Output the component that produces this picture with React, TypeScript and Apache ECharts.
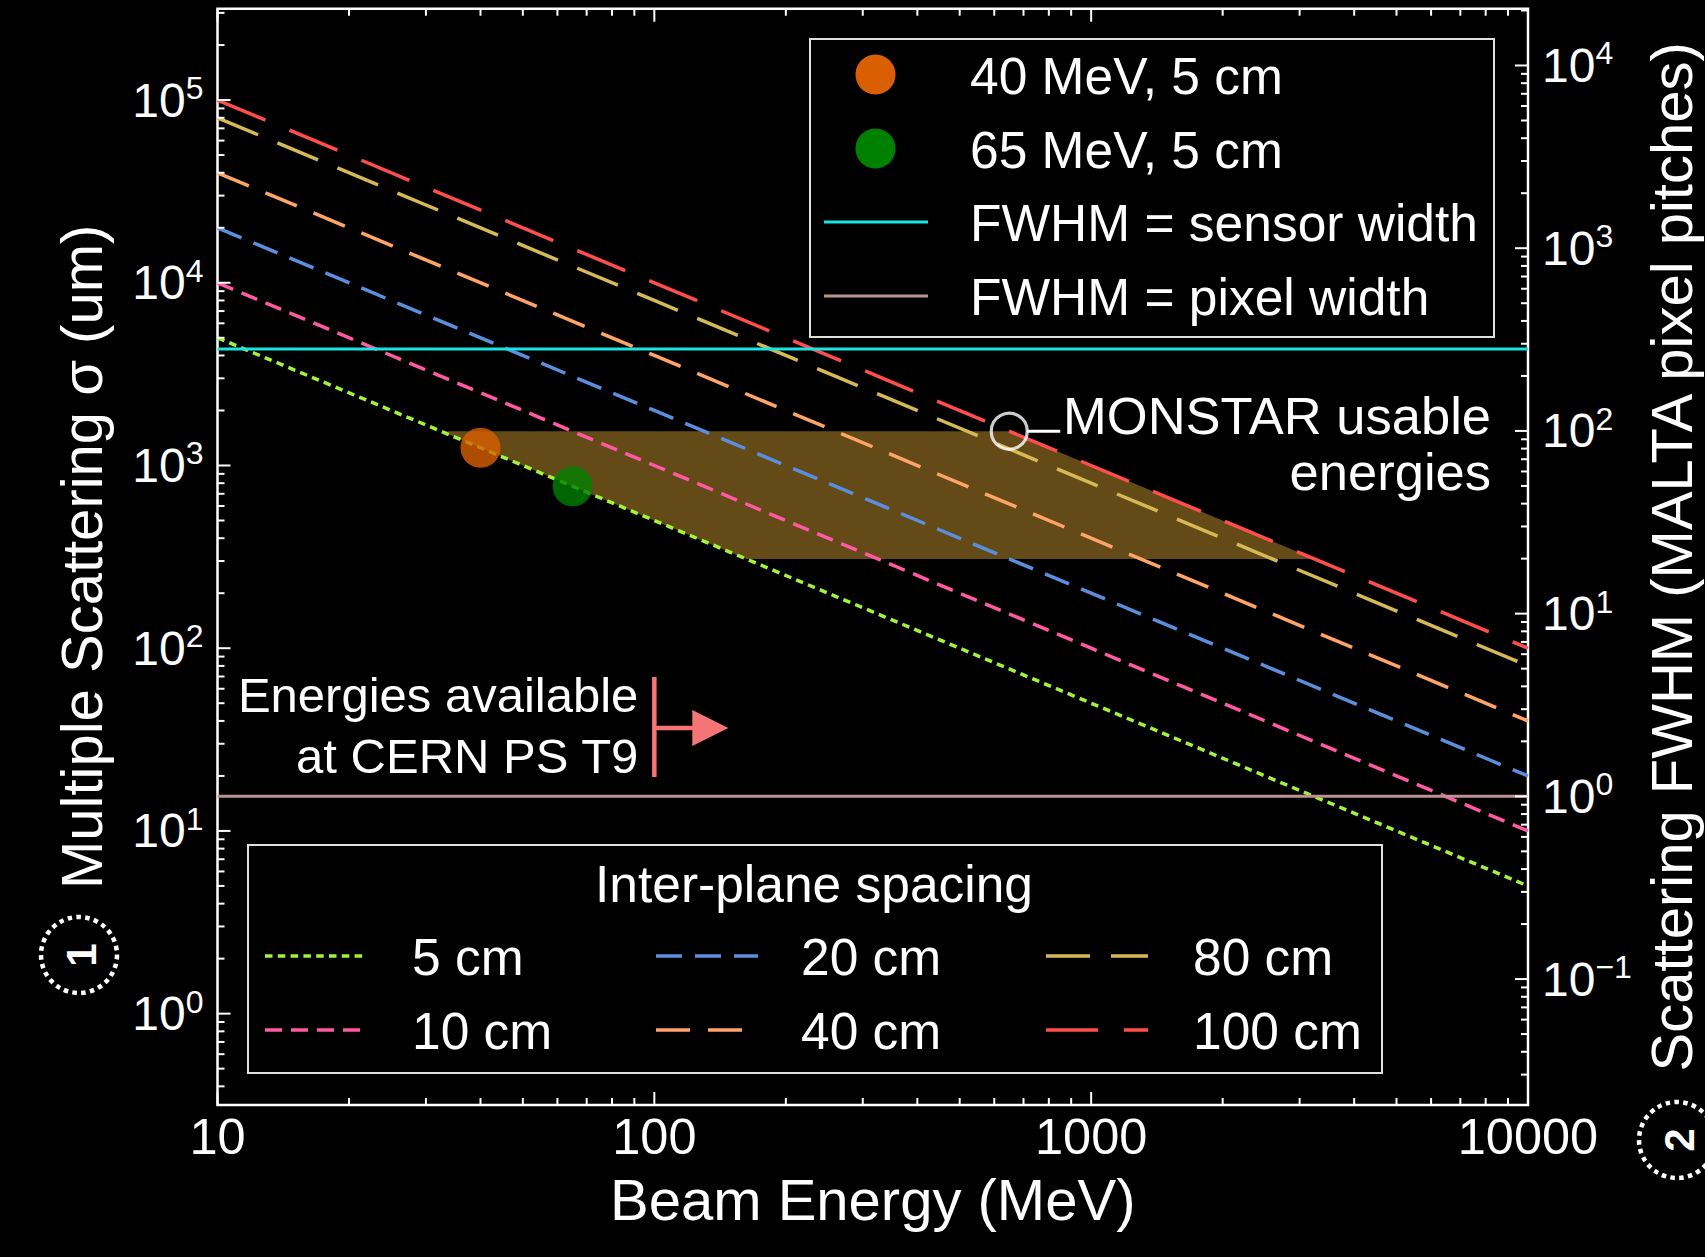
import React, { useEffect, useRef } from "react";
import * as echarts from "echarts";

const FONT = "Liberation Sans, Arial, Helvetica, sans-serif";

// Beam energies (MeV) at which the scattering curves are read
const energies = [10, 100, 1000, 10000];
// Multiple scattering sigma (um) for each inter-plane spacing
const sigma5cm = [5000, 500, 50, 5];
const sigma10cm = [10000, 1000, 100, 10];
const sigma20cm = [20000, 2000, 200, 20];
const sigma40cm = [40000, 4000, 400, 40];
const sigma80cm = [80000, 8000, 800, 80];
const sigma100cm = [100000, 10000, 1000, 100];

const spacingNames = ["5 cm", "10 cm", "20 cm", "40 cm", "80 cm", "100 cm"];
const spacingValues = [sigma5cm, sigma10cm, sigma20cm, sigma40cm, sigma80cm, sigma100cm];
const spacingColors = ["#a3f23c", "#ff59a3", "#5b8fde", "#ffa366", "#d6b955", "#ff4d4d"];
const spacingDashes = [[7.5, 5.3], [17, 9], [26, 13], [34, 18], [44, 21], [52, 26]];

// Measured points
const measuredNames = ["40 MeV, 5 cm", "65 MeV, 5 cm"];
const measuredEnergy = [40, 65];
const measuredSigma = [1250, 769];
const measuredColors = ["#d95f02", "#008000"];

// Reference horizontal lines (sigma, um)
const sensorWidthSigma = 4340;
const pixelWidthSigma = 15.46;
const refLineNames = ["FWHM = sensor width", "FWHM = pixel width"];
const refLineColors = ["#19e3e3", "#bc9393"];

// MONSTAR usable sigma range (um): top, bottom
const monstarSigma = [1540, 308];

const xTickLabels = ["10", "100", "1000", "10000"];
const yExpRange = [-0.5, 5.5];
const minorMultipliers = [2, 3, 4, 5, 6, 7, 8, 9];

const yMin = Math.pow(10, yExpRange[0]);
const yMax = Math.pow(10, yExpRange[1]);
const rMin = yMin / pixelWidthSigma;
const rMax = yMax / pixelWidthSigma;

function lg(v: number) {
  return Math.log10(v);
}

function energyAtSigma(sig: number[], s: number) {
  for (let i = 0; i < energies.length - 1; i++) {
    const a = sig[i];
    const b = sig[i + 1];
    if ((a - s) * (b - s) <= 0) {
      const t = (lg(s) - lg(a)) / (lg(b) - lg(a));
      return Math.pow(10, lg(energies[i]) + t * (lg(energies[i + 1]) - lg(energies[i])));
    }
  }
  return NaN;
}

const bandCorners = [
  [energyAtSigma(sigma5cm, monstarSigma[0]), monstarSigma[0]],
  [energyAtSigma(sigma100cm, monstarSigma[0]), monstarSigma[0]],
  [energyAtSigma(sigma100cm, monstarSigma[1]), monstarSigma[1]],
  [energyAtSigma(sigma5cm, monstarSigma[1]), monstarSigma[1]],
];

function logTicks(lo: number, hi: number) {
  const major: number[] = [];
  const minor: number[] = [];
  for (let k = Math.floor(lg(lo)) - 1; k <= Math.ceil(lg(hi)); k++) {
    const d = Math.pow(10, k);
    if (d >= lo * 0.9999 && d <= hi * 1.0001) major.push(d);
    for (const m of minorMultipliers) {
      const v = m * d;
      if (v >= lo && v <= hi) minor.push(v);
    }
  }
  return { major, minor };
}

const xT = logTicks(10, 10000);
const yT = logTicks(yMin, yMax);
const rT = logTicks(rMin, rMax);

const MAJOR_LEN = 13;
const MINOR_LEN = 7;

const supFormatter = (v: number) => {
  const l = lg(v);
  const e = Math.round(l);
  if (Math.abs(l - e) > 1e-6) return "";
  return `{b|10}{s|${e < 0 ? "\u2212" + -e : e}}`;
};

const supRich = {
  b: { fontSize: 48, fontFamily: FONT, color: "#fff", lineHeight: 56 },
  s: { fontSize: 32, fontFamily: FONT, color: "#fff", lineHeight: 44, verticalAlign: "top" },
};

const TITLE_SIZE = 58;
const LEGEND_SIZE = 51.5;

function buildOption() {
  const series: any[] = [];

  // MONSTAR band
  series.push({
    type: "custom",
    name: "MONSTAR usable energies",
    coordinateSystem: "cartesian2d",
    z: 1,
    silent: true,
    data: [[bandCorners[0][0], bandCorners[0][1]]],
    renderItem: (_params: any, api: any) => ({
      type: "polygon",
      shape: { points: bandCorners.map((c) => api.coord(c)) },
      style: { fill: "#634a16" },
    }),
  });

  spacingNames.forEach((name, i) => {
    series.push({
      type: "line",
      name,
      z: 2,
      silent: true,
      showSymbol: false,
      symbol: "none",
      data: energies.map((e, j) => [e, spacingValues[i][j]]),
      lineStyle: { color: spacingColors[i], width: 3.5, type: spacingDashes[i], cap: "butt" },
    });
  });

  [sensorWidthSigma, pixelWidthSigma].forEach((s, i) => {
    series.push({
      type: "line",
      name: refLineNames[i],
      z: 3,
      silent: true,
      symbol: "none",
      data: [
        [energies[0], s],
        [energies[energies.length - 1], s],
      ],
      lineStyle: { color: refLineColors[i], width: 3, type: "solid" },
    });
  });

  measuredNames.forEach((name, i) => {
    series.push({
      type: "scatter",
      name,
      z: 4,
      symbol: "circle",
      symbolSize: 40,
      data: [[measuredEnergy[i], measuredSigma[i]]],
      itemStyle: { color: measuredColors[i] },
    });
  });

  series.push({
    type: "scatter",
    name: "MONSTAR marker",
    z: 5,
    symbol: "circle",
    symbolSize: 36,
    data: [[bandCorners[1][0], bandCorners[1][1]]],
    itemStyle: { color: "rgba(0,0,0,0)", borderColor: "#fff", borderWidth: 3.2 },
  });

  // ticks: x (bottom + top)
  const tickStyle = { stroke: "#fff", lineWidth: 2 };
  series.push({
    type: "custom",
    coordinateSystem: "cartesian2d",
    z: 6,
    silent: true,
    encode: { x: 0, y: 1 },
    data: [...xT.major.map((v) => [v, 1, 1]), ...xT.minor.map((v) => [v, 1, 0])],
    renderItem: (params: any, api: any) => {
      const cs = params.coordSys;
      const x = api.coord([api.value(0), 1])[0];
      const len = api.value(2) ? MAJOR_LEN : MINOR_LEN;
      const b = cs.y + cs.height;
      return {
        type: "group",
        children: [
          { type: "line", shape: { x1: x, y1: b, x2: x, y2: b - len }, style: tickStyle },
          { type: "line", shape: { x1: x, y1: cs.y, x2: x, y2: cs.y + len }, style: tickStyle },
        ],
      };
    },
  });
  // left y ticks
  series.push({
    type: "custom",
    coordinateSystem: "cartesian2d",
    z: 6,
    silent: true,
    encode: { x: 0, y: 1 },
    data: [...yT.major.map((v) => [10, v, 1]), ...yT.minor.map((v) => [10, v, 0])],
    renderItem: (params: any, api: any) => {
      const cs = params.coordSys;
      const y = api.coord([10, api.value(1)])[1];
      const len = api.value(2) ? MAJOR_LEN : MINOR_LEN;
      return { type: "line", shape: { x1: cs.x, y1: y, x2: cs.x + len, y2: y }, style: tickStyle };
    },
  });
  // right y ticks
  series.push({
    type: "custom",
    coordinateSystem: "cartesian2d",
    yAxisIndex: 1,
    z: 6,
    silent: true,
    encode: { x: 0, y: 1 },
    data: [...rT.major.map((v) => [10, v, 1]), ...rT.minor.map((v) => [10, v, 0])],
    renderItem: (params: any, api: any) => {
      const cs = params.coordSys;
      const y = api.coord([10, api.value(1)])[1];
      const len = api.value(2) ? MAJOR_LEN : MINOR_LEN;
      const r = cs.x + cs.width;
      return { type: "line", shape: { x1: r, y1: y, x2: r - len, y2: y }, style: tickStyle };
    },
  });

  return {
    animation: false,
    backgroundColor: "#000",
    grid: {
      left: 217.5,
      right: 177,
      top: 8.7,
      bottom: 152,
      containLabel: false,
      outerBoundsMode: "none",
      show: true,
      borderColor: "#fff",
      borderWidth: 2.5,
      backgroundColor: "transparent",
    },
    xAxis: {
      type: "log",
      logBase: 10,
      min: 10,
      max: 10000,
      axisLine: { show: false },
      axisTick: { show: false },
      splitLine: { show: false },
      minorTick: { show: false },
      axisLabel: {
        color: "#fff",
        fontSize: 50.5,
        fontFamily: FONT,
        margin: 6,
        formatter: (v: number) => {
          const l = lg(v);
          const e = Math.round(l);
          if (Math.abs(l - e) > 1e-6) return "";
          return xTickLabels[e - 1] ?? "";
        },
      },
      name: "Beam Energy (MeV)",
      nameLocation: "middle",
      nameGap: 94,
      nameMoveOverlap: false,
      nameTextStyle: { color: "#fff", fontSize: TITLE_SIZE, fontFamily: FONT, verticalAlign: "middle", align: "center" },
    },
    yAxis: [
      {
        type: "log",
        logBase: 10,
        min: yMin,
        max: yMax,
        position: "left",
        axisLine: { show: false },
        axisTick: { show: false },
        splitLine: { show: false },
        minorTick: { show: false },
        axisLabel: { formatter: supFormatter, rich: supRich, margin: 14 },
        name: "Multiple Scattering \u03c3 (um)",
        nameLocation: "middle",
        nameRotate: 90,
        nameGap: 136,
        nameMoveOverlap: false,
        nameTextStyle: { color: "#fff", fontSize: TITLE_SIZE, fontFamily: FONT, verticalAlign: "middle", align: "center" },
      },
      {
        type: "log",
        logBase: 10,
        min: rMin,
        max: rMax,
        position: "right",
        axisLine: { show: false },
        axisTick: { show: false },
        splitLine: { show: false },
        minorTick: { show: false },
        axisLabel: { formatter: supFormatter, rich: supRich, margin: 14 },
        name: "Scattering FWHM (MALTA pixel pitches)",
        nameLocation: "middle",
        nameRotate: 90,
        nameGap: 143,
        nameMoveOverlap: false,
        nameTextStyle: { color: "#fff", fontSize: TITLE_SIZE, fontFamily: FONT, verticalAlign: "middle", align: "center" },
      },
    ],
    tooltip: { show: false },
    series,
  };
}

function txt(text: string, x: number, y: number, size: number, align = "left", extra: any = {}) {
  return {
    type: "text",
    x,
    y,
    silent: true,
    z: 100,
    ...extra,
    style: {
      text,
      fill: "#fff",
      fontSize: size,
      fontFamily: FONT,
      fontWeight: extra.fontWeight || "normal",
      align,
      textAlign: align,
      verticalAlign: "middle",
      textVerticalAlign: "middle",
    },
  };
}

function buildGraphics(chart: any) {
  const toPx = (p: number[]) => chart.convertToPixel({ xAxisIndex: 0, yAxisIndex: 0 }, p);
  const g: any[] = [];

  // Top legend
  g.push({
    type: "rect",
    z: 90,
    shape: { x: 810, y: 39, width: 684, height: 298 },
    style: { fill: "#000", stroke: "#e0e0e0", lineWidth: 2 },
  });
  const topRows = [74.5, 148.5, 222, 296];
  measuredNames.forEach((n, i) => {
    g.push({ type: "circle", z: 95, shape: { cx: 875.5, cy: topRows[i], r: 20 }, style: { fill: measuredColors[i] } });
    g.push(txt(n, 970, topRows[i] + 1, LEGEND_SIZE));
  });
  refLineNames.forEach((n, i) => {
    g.push({
      type: "line",
      z: 95,
      shape: { x1: 824, y1: topRows[i + 2], x2: 928, y2: topRows[i + 2] },
      style: { stroke: refLineColors[i], lineWidth: 3 },
    });
    g.push(txt(n, 970, topRows[i + 2] + 1, LEGEND_SIZE));
  });

  // Bottom legend
  g.push({
    type: "rect",
    z: 90,
    shape: { x: 248, y: 845, width: 1134, height: 228 },
    style: { fill: "#000", stroke: "#e0e0e0", lineWidth: 2 },
  });
  g.push(txt("Inter-plane spacing", 814, 884, LEGEND_SIZE, "center"));
  const colLine = [265, 656, 1046];
  const colText = [412, 801, 1193];
  const rowY = [956, 1030];
  spacingNames.forEach((n, i) => {
    const c = Math.floor(i / 2);
    const r = i % 2;
    g.push({
      type: "line",
      z: 95,
      shape: { x1: colLine[c], y1: rowY[r], x2: colLine[c] + 102, y2: rowY[r] },
      style: { stroke: spacingColors[i], lineWidth: 3.5, lineDash: spacingDashes[i] },
    });
    g.push(txt(n, colText[c], rowY[r] + 1, LEGEND_SIZE));
  });

  // MONSTAR annotation
  const corner = toPx(bandCorners[1]);
  g.push({
    type: "line",
    z: 95,
    shape: { x1: corner[0] + 18, y1: corner[1], x2: corner[0] + 51, y2: corner[1] },
    style: { stroke: "#fff", lineWidth: 3 },
  });
  g.push(txt("MONSTAR usable", 1491, corner[1] - 16, 52.5, "right"));
  g.push(txt("energies", 1491, corner[1] + 40, 52.5, "right"));

  // CERN PS T9 annotation
  const p100 = toPx([100, 1]);
  const ax = p100[0];
  const arrowColor = "#f57575";
  g.push({ type: "line", z: 95, shape: { x1: ax, y1: 677, x2: ax, y2: 777 }, style: { stroke: arrowColor, lineWidth: 4.5 } });
  g.push({ type: "line", z: 95, shape: { x1: ax, y1: 728, x2: ax + 42, y2: 728 }, style: { stroke: arrowColor, lineWidth: 4.5 } });
  g.push({
    type: "polygon",
    z: 95,
    shape: { points: [[ax + 38, 710], [ax + 74, 728], [ax + 38, 746]] },
    style: { fill: arrowColor },
  });
  g.push(txt("Energies available", ax - 16, 695, 49, "right"));
  g.push(txt("at CERN PS T9", ax - 16, 756, 49, "right"));

  // Circled axis numbers
  const circles = [
    { cx: 79, cy: 955, t: "1" },
    { cx: 1677, cy: 1140, t: "2" },
  ];
  circles.forEach((c) => {
    g.push({
      type: "circle",
      z: 95,
      shape: { cx: c.cx, cy: c.cy, r: 38 },
      style: { fill: "none", stroke: "#fff", lineWidth: 4.5, lineDash: [4.5, 4.3] },
    });
    g.push(txt(c.t, c.cx + 2, c.cy, 42, "center", { rotation: Math.PI / 2, fontWeight: "bold" }));
  });

  return g;
}

export default function App() {
  const ref = useRef<HTMLDivElement>(null);
  useEffect(() => {
    document.body.style.margin = "0";
    document.body.style.background = "#000";
    const chart = echarts.init(ref.current!, null, { renderer: "svg" });
    chart.setOption(buildOption() as any);
    chart.setOption({ graphic: { elements: buildGraphics(chart) } } as any);
    return () => chart.dispose();
  }, []);
  return (
    <div
      ref={ref}
      style={{ position: "absolute", left: 0, top: 0, width: 1705, height: 1257, background: "#000" }}
    />
  );
}
